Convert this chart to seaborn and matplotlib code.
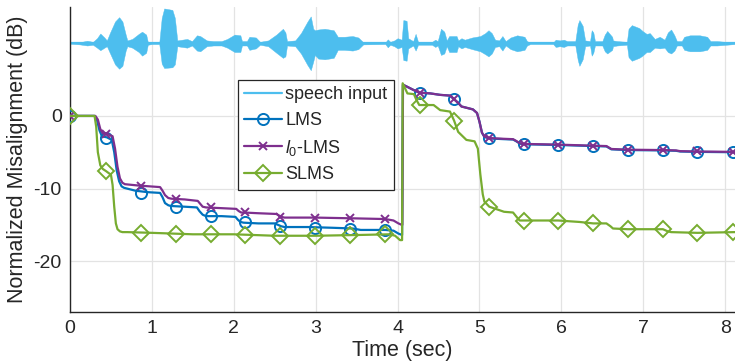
import numpy as np
import pandas as pd
import matplotlib
matplotlib.use("Agg")
import matplotlib.pyplot as plt
from matplotlib.lines import Line2D
import seaborn as sns

# ---------------- data ----------------
# speech envelope (time in s, upper / lower amplitude in dB around the 10 dB baseline)
env_t = [0.00, 0.12, 0.21, 0.28, 0.33, 0.37, 0.42, 0.45, 0.49, 0.55, 0.60, 0.64, 0.68, 0.70,
         0.76, 0.84, 0.88, 0.93, 0.95, 1.00, 1.09, 1.12, 1.15, 1.25, 1.28, 1.31, 1.37, 1.43,
         1.49, 1.55, 1.59, 1.67, 1.75, 1.85, 1.92, 2.01, 2.08, 2.10, 2.16, 2.19, 2.27, 2.32,
         2.42, 2.52, 2.60, 2.63, 2.65, 2.75, 2.82, 2.90, 2.94, 2.97, 2.99, 3.03, 3.11, 3.22,
         3.27, 3.35, 3.45, 3.52, 3.58, 3.85, 3.88, 3.91, 3.96, 4.00, 4.05, 4.07, 4.11, 4.13,
         4.19, 4.22, 4.25, 4.42, 4.46, 4.49, 4.53, 4.57, 4.60, 4.63, 4.72, 4.74, 4.78, 4.82,
         4.91, 5.01, 5.07, 5.11, 5.15, 5.19, 5.24, 5.28, 5.32, 5.38, 5.46, 5.55, 5.58, 5.62,
         5.90, 5.93, 5.98, 6.03, 6.07, 6.17, 6.20, 6.22, 6.26, 6.29, 6.35, 6.37, 6.39, 6.41,
         6.50, 6.53, 6.56, 6.62, 6.63, 6.68, 6.80, 6.82, 6.86, 6.95, 6.99, 7.04, 7.08, 7.11,
         7.14, 7.20, 7.26, 7.30, 7.34, 7.38, 7.41, 7.47, 7.50, 7.57, 7.69, 7.78, 7.82, 7.90, 8.12]
env_up = [0.05, 0.15, 0.35, 0.2, 0.7, 1.35, 0.8, 0.4, 1.5, 3.0, 3.6, 3.0, 1.2, 0.4,
          0.6, 1.3, 1.6, 1.2, 0.2, 0.1, 0.1, 3.5, 4.8, 4.6, 3.5, 0.4, 0.5, 0.6,
          0.3, 1.1, 1.0, 0.4, 0.3, 0.3, 0.6, 1.2, 1.1, 0.3, 0.3, 0.9, 0.8, 0.2,
          0.4, 1.2, 2.0, 1.5, 0.3, 0.4, 1.4, 3.0, 3.7, 2.0, 1.8, 1.9, 2.0, 1.8,
          0.9, 0.9, 1.0, 0.8, 0.15, 0.1, 0.55, 0.2, 0.4, 0.7, 0.5, 3.2, 3.1, 0.7,
          0.3, 1.3, 0.2, 0.2, 0.5, 0.3, 2.0, 1.6, 0.4, 1.0, 1.0, 0.4, 0.7, 0.5,
          0.8, 1.0, 1.4, 1.8, 1.4, 0.5, 0.4, 1.0, 0.3, 0.8, 1.1, 0.9, 0.3, 0.1,
          0.1, 0.5, 0.4, 0.5, 0.3, 0.3, 2.6, 3.2, 2.4, 0.4, 0.3, 1.8, 1.5, 0.3,
          0.3, 1.2, 1.7, 0.9, 0.4, 0.3, 0.2, 2.0, 2.5, 2.1, 1.7, 1.3, 1.4, 1.0,
          0.6, 0.9, 0.5, 1.5, 1.9, 1.1, 0.3, 0.3, 0.9, 1.1, 1.1, 0.9, 0.3, 0.3, 0.1]
env_dn = [0.05, 0.15, 0.3, 0.2, 0.6, 0.95, 0.6, 0.4, 1.4, 2.9, 3.5, 3.1, 1.0, 0.4,
          0.6, 1.2, 1.7, 1.3, 0.2, 0.1, 0.1, 2.8, 3.4, 3.3, 2.9, 0.4, 0.5, 0.6,
          0.3, 1.0, 1.1, 0.4, 0.3, 0.3, 0.6, 1.2, 1.2, 0.3, 0.3, 0.9, 0.7, 0.2,
          0.4, 1.3, 2.0, 1.8, 0.3, 0.4, 1.4, 3.0, 3.7, 2.5, 1.6, 2.1, 2.2, 2.0,
          0.9, 0.9, 1.0, 0.8, 0.15, 0.1, 0.55, 0.2, 0.4, 0.7, 0.5, 2.3, 2.4, 0.7,
          0.3, 1.0, 0.2, 0.2, 0.5, 0.3, 1.6, 1.4, 0.4, 1.2, 1.2, 0.4, 0.7, 0.5,
          0.8, 1.1, 1.5, 1.8, 1.4, 0.5, 0.4, 1.0, 0.3, 0.8, 1.1, 0.9, 0.3, 0.1,
          0.1, 0.5, 0.4, 0.5, 0.3, 0.3, 2.3, 3.1, 2.2, 0.4, 0.3, 1.7, 1.3, 0.3,
          0.3, 1.1, 1.4, 0.9, 0.4, 0.3, 0.2, 1.9, 2.4, 2.0, 1.7, 1.2, 1.2, 0.9,
          0.6, 0.7, 0.6, 1.2, 1.4, 1.0, 0.3, 0.3, 0.9, 1.1, 1.1, 0.9, 0.3, 0.3, 0.1]
speech_level = 10.0

# misalignment curves (breakpoints)
lms_t = [0, 0.30, 0.33, 0.36, 0.39, 0.45, 0.51, 0.54, 0.57, 0.60, 0.63, 0.66, 0.80, 0.95, 1.10,
         1.13, 1.16, 1.20, 1.23, 1.40, 1.55, 1.58, 1.62, 1.66, 1.85, 2.02, 2.05, 2.08, 2.12, 2.30,
         2.50, 2.54, 2.58, 2.62, 2.90, 3.20, 3.45, 3.55, 3.85, 3.95, 4.01, 4.055,
         4.065, 4.12, 4.19, 4.265, 4.40, 4.52, 4.64, 4.69, 4.74, 4.78, 4.92, 4.97, 5.00, 5.03,
         5.06, 5.12, 5.30, 5.41, 5.45, 5.49, 5.53, 5.96, 6.39, 6.55, 6.58, 6.61, 6.81, 7.24,
         7.40, 7.45, 7.66, 8.12]
lms_v = [0, 0, -0.6, -2.0, -2.8, -2.95, -3.3, -5.0, -7.5, -9.0, -9.7, -9.9, -10.3, -10.5, -10.6,
         -11.2, -12.0, -12.3, -12.4, -12.5, -12.6, -13.1, -13.6, -13.8, -13.8, -13.9, -14.3, -14.6,
         -14.7, -14.8, -14.8, -15.0, -15.2, -15.3, -15.3, -15.4, -15.5, -15.7, -15.7, -15.8, -16.2,
         -16.4,
         4.3, 4.0, 3.6, 3.2, 3.1, 2.9, 2.8, 2.3, 1.8, 1.3, 0.9, 0.4, -0.8, -2.3,
         -2.9, -3.1, -3.2, -3.25, -3.5, -3.8, -3.9, -4.0, -4.15, -4.2, -4.4, -4.6, -4.7, -4.75,
         -4.8, -4.9, -4.95, -5.0]

l0_t = [0, 0.31, 0.34, 0.37, 0.40, 0.46, 0.52, 0.55, 0.58, 0.61, 0.64, 0.67, 0.85, 1.10, 1.13,
        1.16, 1.20, 1.24, 1.40, 1.56, 1.59, 1.62, 1.66, 1.85, 2.03, 2.06, 2.09, 2.12, 2.30, 2.52,
        2.55, 2.58, 2.62, 3.00, 3.45, 3.85, 3.95, 4.01, 4.05, 4.058,
        4.066, 4.12, 4.19, 4.265, 4.40, 4.52, 4.64, 4.69, 4.74, 4.78, 4.92, 4.97, 5.00, 5.03,
        5.06, 5.12, 5.30, 5.41, 5.45, 5.49, 5.53, 5.96, 6.39, 6.55, 6.58, 6.61, 6.81, 7.24,
        7.40, 7.45, 7.66, 8.12]
l0_v = [0, 0, -0.5, -1.8, -2.4, -2.5, -2.8, -4.5, -7.0, -8.6, -9.2, -9.4, -9.6, -9.8, -10.3,
        -10.9, -11.3, -11.4, -11.5, -11.7, -12.1, -12.5, -12.6, -12.7, -12.8, -13.1, -13.3, -13.3,
        -13.4, -13.5, -13.7, -13.9, -14.0, -14.0, -14.1, -14.2, -14.4, -14.8, -15.0, -15.0,
        4.3, 4.0, 3.6, 3.2, 3.1, 2.9, 2.8, 2.3, 1.8, 1.3, 0.9, 0.4, -0.8, -2.3,
        -2.85, -3.05, -3.15, -3.2, -3.45, -3.75, -3.85, -3.95, -4.1, -4.15, -4.35, -4.55, -4.65,
        -4.7, -4.75, -4.85, -4.9, -4.95]

slms_t = [0, 0.30, 0.32, 0.34, 0.37, 0.40, 0.44, 0.50, 0.52, 0.54, 0.56, 0.58, 0.61, 0.64, 0.70,
          1.00, 1.50, 2.00, 2.50, 3.00, 3.50, 3.90, 3.97, 4.03, 4.055,
          4.062, 4.12, 4.20, 4.23, 4.265, 4.44, 4.52, 4.64, 4.69, 4.74, 4.84, 4.94, 4.98, 5.01,
          5.04, 5.06, 5.12, 5.30, 5.41, 5.46, 5.49, 5.53, 5.96, 6.22, 6.39, 6.55, 6.60, 6.63,
          6.81, 7.24, 7.30, 7.34, 7.66, 8.12]
slms_v = [0, 0, -1.5, -5.0, -6.8, -7.3, -7.6, -8.1, -9.5, -12.5, -14.8, -15.6, -15.9, -16.0,
          -16.0, -16.1, -16.3, -16.3, -16.5, -16.5, -16.4, -16.3, -16.5, -17.1, -17.1,
          4.5, 3.1, 3.0, 2.2, 1.5, 1.5, 0.8, 0.6, -0.65, -2.2, -3.3, -3.5, -4.5, -8.0,
          -10.8, -11.8, -12.5, -13.2, -13.3, -14.0, -14.4, -14.4, -14.4, -14.6, -14.8, -14.8,
          -15.2, -15.5, -15.6, -15.6, -15.9, -16.0, -16.1, -16.0]

# marker positions and values
mark_t = [0.0, 0.44, 0.87, 1.29, 1.72, 2.14, 2.56, 2.99, 3.42, 3.85,
          4.27, 4.69, 5.12, 5.54, 5.96, 6.39, 6.81, 7.24, 7.66, 8.09]
lms_mk = [0, -3.0, -10.6, -12.5, -13.8, -14.6, -15.2, -15.4, -15.6, -15.7,
          3.2, 2.3, -3.1, -3.9, -4.0, -4.15, -4.7, -4.75, -4.9, -4.95]
l0_mk = [0, -2.5, -9.7, -11.5, -12.6, -13.2, -13.9, -14.0, -14.1, -14.2,
         3.2, 2.3, -3.1, -3.85, -3.95, -4.1, -4.65, -4.7, -4.85, -4.9]
slms_mk = [0, -7.6, -16.1, -16.3, -16.3, -16.4, -16.5, -16.5, -16.4, -16.3,
           1.5, -0.65, -12.5, -14.4, -14.4, -14.8, -15.6, -15.6, -16.1, -16.0]

labels = ["speech input", "LMS", r"$\mathit{l}_0$-LMS", "SLMS"]
colors = ["#4DBEEE", "#0072BD", "#7E2F8E", "#77AC30"]
xticks = [0, 1, 2, 3, 4, 5, 6, 7, 8]
yticks = [-20, -10, 0]

# ---------------- style ----------------
sns.set_theme(style="white")
plt.rcParams["font.family"] = ["Liberation Sans", "DejaVu Sans"]
plt.rcParams["mathtext.fontset"] = "custom"
plt.rcParams["mathtext.rm"] = "Liberation Sans"
plt.rcParams["mathtext.it"] = "Liberation Sans:italic"

fig = plt.figure(figsize=(7.35, 3.64), dpi=100)
ax = fig.add_axes([70 / 735, 1 - 312 / 364, 665 / 735, 305 / 364])

# speech waveform
env_t_a = np.array(env_t)
up = speech_level + np.array(env_up)
dn = speech_level - np.array(env_dn)
ax.fill_between(env_t_a, dn, up, color=colors[0], linewidth=0.3, edgecolor=colors[0], zorder=2)
ax.plot([env_t[0], env_t[-1]], [speech_level, speech_level], color=colors[0], lw=1.6, zorder=2)

lw = 1.6
ms = 8
series = [(lms_t, lms_v, lms_mk, "o", ms, colors[1]),
          (l0_t, l0_v, l0_mk, "x", 6, colors[2]),
          (slms_t, slms_v, slms_mk, "D", 8, colors[3])]
order_z = [3, 4, 5]
for (tt, vv, mk, m, msz, c), z in zip(series, order_z):
    df = pd.DataFrame({"t": tt, "v": vv})
    sns.lineplot(data=df, x="t", y="v", ax=ax, color=c, lw=lw, sort=False,
                 estimator=None, zorder=z)
    ax.plot(mark_t, mk, linestyle="none", marker=m, markersize=msz,
            markerfacecolor="none", markeredgecolor=c, markeredgewidth=1.4,
            zorder=z + 0.5, clip_on=True)

ax.set_xlim(0, 8.12)
ax.set_ylim(-27, 15)
ax.set_xticks(xticks)
ax.set_yticks(yticks)
ax.set_xticklabels([str(x) for x in xticks])
ax.set_yticklabels([str(y) for y in yticks])
ax.grid(True, color="#e3e3e3", lw=0.9)
ax.set_axisbelow(True)
for s in ["top", "right"]:
    ax.spines[s].set_visible(False)
for s in ["left", "bottom"]:
    ax.spines[s].set_color("#262626")
    ax.spines[s].set_linewidth(1.0)
ax.tick_params(axis="both", direction="in", length=5, width=0.9, color="#262626",
               labelsize=14, labelcolor="#262626", pad=6)
ax.set_xlabel("Time (sec)", fontsize=15.5, color="#262626", labelpad=2)
ax.set_ylabel("Normalized Misalignment (dB)", fontsize=15.5, color="#262626", labelpad=4)

handles = [Line2D([], [], color=colors[0], lw=1.6),
           Line2D([], [], color=colors[1], lw=lw, marker="o", markersize=ms,
                  markerfacecolor="none", markeredgewidth=1.4),
           Line2D([], [], color=colors[2], lw=lw, marker="x", markersize=6,
                  markeredgewidth=1.4),
           Line2D([], [], color=colors[3], lw=lw, marker="D", markersize=8,
                  markerfacecolor="none", markeredgewidth=1.4)]
leg = ax.legend(handles, labels, loc="upper left", bbox_to_anchor=(0.2526, 0.761),
                borderaxespad=0, fontsize=13, handlelength=2.1, handletextpad=0.17,
                labelspacing=0.48, borderpad=0.35, frameon=True, fancybox=False,
                framealpha=1, edgecolor="#262626")
leg.get_frame().set_linewidth(0.9)
leg.set_zorder(10)

fig.savefig("out.png", dpi=100)
